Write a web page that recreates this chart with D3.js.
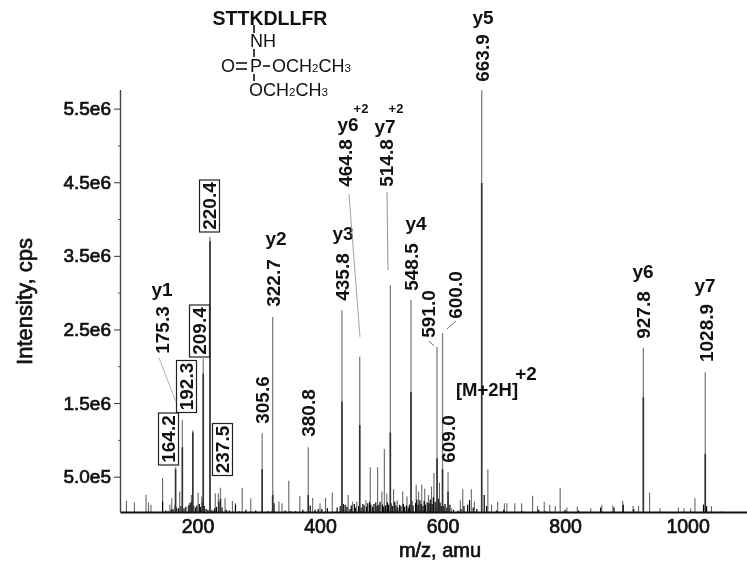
<!DOCTYPE html>
<html><head><meta charset="utf-8">
<script src="https://cdn.jsdelivr.net/npm/d3@7"></script>
<style>
html,body{margin:0;padding:0;background:#fff}
svg{display:block;filter:blur(0.35px)}
text{font-family:"Liberation Sans",Arial,sans-serif;fill:#111}
</style></head><body><svg id="c" width="747" height="563"></svg>
<script>
// labelled fragment peaks
const majorMz=[164.2,175.3,192.3,209.4,220.4,237.5,305.6,322.7,380.8,435.8,464.8,514.8,548.5,591.0,600.0,609.0,663.9,927.8,1028.9];
const majorIntensity=[0.63e6,1.27e6,1.13e6,2.11e6,3.76e6,0.35e6,1.09e6,2.67e6,0.9e6,2.76e6,2.13e6,3.1e6,2.9e6,2.26e6,2.45e6,0.56e6,5.75e6,2.25e6,1.92e6];
const majorCore=[0.6e6,0.9e6,1.1e6,1.9e6,3.7e6,0.2e6,0.6e6,0.25e6,0.25e6,1.52e6,1.2e6,1.1e6,1.65e6,0.75e6,0.6e6,0.3e6,4.49e6,1.58e6,0.81e6];
// unlabelled smaller peaks
const minorMz=[84,97,116,120,124,143,155,158,163,171,185,190,201,207,229,234,245,257,262,273,287,323,333,338,349,367,388,400,409,420,446,453,460,475,482,494,501,505,509,520,526,535,542,557,561,566,571,577,582,586,595,615,629,633,647,652,674,680,690,701,705,718,729,747,755,766,775,784,792,803,820,842,860,878,894,911,920,938,955,985,994,1005,1012,1039,1056];
const minorIntensity=[.174,.148,.256,.148,.117,.482,.117,.206,.117,.297,.095,.251,.283,.229,.274,.274,.206,.17,.139,.351,.206,.297,.161,.139,.446,.238,.21,.139,.21,.283,.251,.161,.161,.18,.627,.627,.3,.876,.27,.33,.18,.3,.23,.39,.3,.39,.34,.25,.365,.55,.42,.07,.18,.33,.33,.16,.6,.12,.16,.14,.14,.14,.14,.24,.1,.16,.12,.1,.35,.08,.09,.07,.12,.11,.17,.1,.1,.28,.07,.08,.07,.07,.21,.1,.03].map(v=>v*1e6);
// dense dark chemical noise along the baseline
const baseMz=[143,148,152,157,160,166,169,173,178,181,186,188,191,194,197,199,203,205,208,211,214,217,222,225,228,231,235,240,247,252,262,268,279,295,306,315,322,325,343,352,360,372,384,392,397,403,412,428,433,438,441,444,449,451,456,458,463,467,470,472,476,478,481,483,486,488,491,493,496,498,502,504,507,510,512,516,518,522,524,527,530,532,536,538,541,544,546,550,552,556,558,560,563,565,568,570,572,575,578,580,583,585,588,590,593,596,598,602,604,607,612,618,625,630,635,641,644,650,656,668,672,688,700,730,757,768,800,822,858,880,895,912,1026,1031];
const baseIntensity=[.16,.04,.03,.05,.06,.08,.07,.1,.07,.09,.12,.15,.16,.1,.08,.11,.13,.09,.16,.1,.06,.05,.05,.04,.07,.09,.16,.08,.05,.04,.12,.03,.05,.04,.12,.03,.04,.14,.04,.03,.03,.05,.11,.05,.06,.06,.07,.08,.1,.13,.12,.09,.06,.11,.13,.08,.1,.08,.13,.11,.09,.14,.16,.12,.09,.13,.15,.1,.12,.16,.12,.09,.11,.15,.12,.14,.1,.16,.11,.08,.12,.1,.13,.09,.11,.08,.12,.17,.11,.14,.19,.12,.18,.13,.1,.17,.12,.15,.14,.19,.13,.22,.16,.12,.2,.15,.1,.1,.13,.08,.12,.05,.04,.06,.1,.12,.18,.08,.06,.25,.1,.04,.05,.03,.05,.03,.05,.04,.08,.08,.12,.06,.12,.1].map(v=>v*1e6);
const yTickValues=[5e5,1.5e6,2.5e6,3.5e6,4.5e6,5.5e6];
const yMinorValues=[1e6,2e6,3e6,4e6,5e6];
const xTickValues=[200,400,600,800,1000];
const xTitle="m/z, amu", yTitle="Intensity, cps";
const peakLabels=["175.3","305.6","322.7","380.8","435.8","464.8","514.8","548.5","591.0","600.0","609.0","663.9","927.8","1028.9"];
const boxedLabels=["164.2","192.3","209.4","220.4","237.5"];
const ionLabels=["y1","y2","y3","y4","y5","y6","y7","y6","y7"];

const W=747,H=563,svg=d3.select("#c");
const x=d3.scaleLinear().domain([73.5,1097]).range([120,747]);
const y=d3.scaleLinear().domain([2e4,5.76e6]).range([512,89.5]);
svg.append("clipPath").attr("id","plot").append("rect").attr("x",120).attr("y",80).attr("width",627).attr("height",432);
const plot=svg.append("g").attr("clip-path","url(#plot)");
function sticks(xs,ys,color,w){
  plot.append("g").selectAll("line").data(xs.map((m,i)=>[m,ys[i]])).join("line")
    .attr("x1",d=>x(d[0])).attr("x2",d=>x(d[0])).attr("y1",y(0)).attr("y2",d=>y(d[1]))
    .attr("stroke",color).attr("stroke-width",w);
}
sticks(minorMz,minorIntensity,"#666",1.1);
sticks(baseMz,baseIntensity,"#000",1.2);
sticks(majorMz,majorIntensity,"#808080",1.3);
sticks(majorMz,majorCore,"#333",1.6);

const fmt=v=>v.toExponential(1).replace("e+","e");
const heavy=sel=>sel.attr("font-size",19).attr("font-weight","normal").style("stroke","#111").style("stroke-width","0.7px").style("font-family",'"Liberation Sans"').style("fill","#111");
const gy=svg.append("g").attr("transform","translate(120,0)").call(d3.axisLeft(y).tickValues(yTickValues).tickFormat(fmt).tickSize(6).tickSizeOuter(0).tickPadding(3));
heavy(gy.selectAll("text"));
gy.selectAll("line").attr("stroke","#333");
gy.select(".domain").attr("stroke","#444").attr("stroke-width",1.4);
const gm=svg.append("g").attr("transform","translate(120,0)").call(d3.axisLeft(y).tickValues(yMinorValues).tickFormat("").tickSize(2).tickSizeOuter(0));
gm.select(".domain").remove(); gm.selectAll("line").attr("stroke","#555");
const gx=svg.append("g").attr("transform","translate(0,512)").call(d3.axisBottom(x).tickValues(xTickValues).tickFormat(d3.format("d")).tickSize(0).tickPadding(7));
heavy(gx.selectAll("text")).attr("font-size",19.5);
gx.select(".domain").attr("stroke","#111").attr("stroke-width",1.8);

function t(s,px,py,o={}){
  const e=svg.append("text").attr("text-anchor",o.a||"middle").attr("dominant-baseline","central")
    .attr("font-size",o.s||19).attr("font-weight",o.w||"bold").text(s);
  e.attr("transform",`translate(${px},${py})`+(o.r?` rotate(${o.r})`:""));
  return e;
}
heavy(t(xTitle,440,550,{w:"normal"})).attr("font-size",20);
heavy(t(yTitle,24,301.5,{r:-90,w:"normal"})).attr("font-size",22);

const labelPos=[[162,330],[262,400],[273,283],[308,413],[342,277],[345,163],[386,163],[411,267],[428,314],[455,295],[448,439],[482,58],[643,315],[706,333]];
peakLabels.forEach((s,i)=>t(s,labelPos[i][0],labelPos[i][1],{r:-90}));
const boxPos=[[168.5,439],[186.5,386.5],[199.5,331],[209.5,206],[222.5,449.5]];
boxedLabels.forEach((s,i)=>{
  const [cx,cy]=boxPos[i];
  svg.append("rect").attr("x",cx-10).attr("y",cy-26).attr("width",20).attr("height",52).attr("fill","#fff").attr("stroke","#222").attr("stroke-width",1.2);
  t(s,cx,cy,{r:-90});
});
const ionPos=[[162,289],[276,238],[343,233],[416,223],[483,17],[348,124],[385,126],[643,271],[705,285]];
ionLabels.forEach((s,i)=>t(s,ionPos[i][0],ionPos[i][1],{s:19}));
t("+2",361,108,{s:13});
t("+2",396,108,{s:13});
t("[M+2H]",487,389,{s:18.5});
t("+2",526,373,{s:19});

const leaders=[[159,358,176,402,"#aaa"],[349,194,360,337,"#999"],[387,192,388,270,"#888"],[429,341,434,346,"#666"],[447,329,456,321,"#666"]];
svg.append("g").selectAll("line").data(leaders).join("line")
  .attr("x1",d=>d[0]).attr("y1",d=>d[1]).attr("x2",d=>d[2]).attr("y2",d=>d[3]).attr("stroke",d=>d[4]).attr("stroke-width",.9);

// structure
t("STTKDLLFR",270,18,{s:19.5});
t("NH",263,41,{s:18,w:"normal"});
t("O",228,66,{s:18,w:"normal"});
t("P",256,66,{s:18,w:"normal"});
function chem(px,py){
  const e=svg.append("text").attr("x",px).attr("y",py).attr("font-size",18);
  e.append("tspan").text("OCH");e.append("tspan").attr("font-size",11.5).text("2");
  e.append("tspan").text("CH");e.append("tspan").attr("font-size",11.5).text("3");
}
chem(272,72);chem(249,96);
const bonds=[[254,25,254,33],[254,49,254,57],[254,74,254,81],[236,63,247,63],[236,69,247,69],[263,66,270,66]];
svg.append("g").selectAll("line").data(bonds).join("line")
  .attr("x1",d=>d[0]).attr("y1",d=>d[1]).attr("x2",d=>d[2]).attr("y2",d=>d[3]).attr("stroke","#111").attr("stroke-width",1.6);
</script></body></html>
